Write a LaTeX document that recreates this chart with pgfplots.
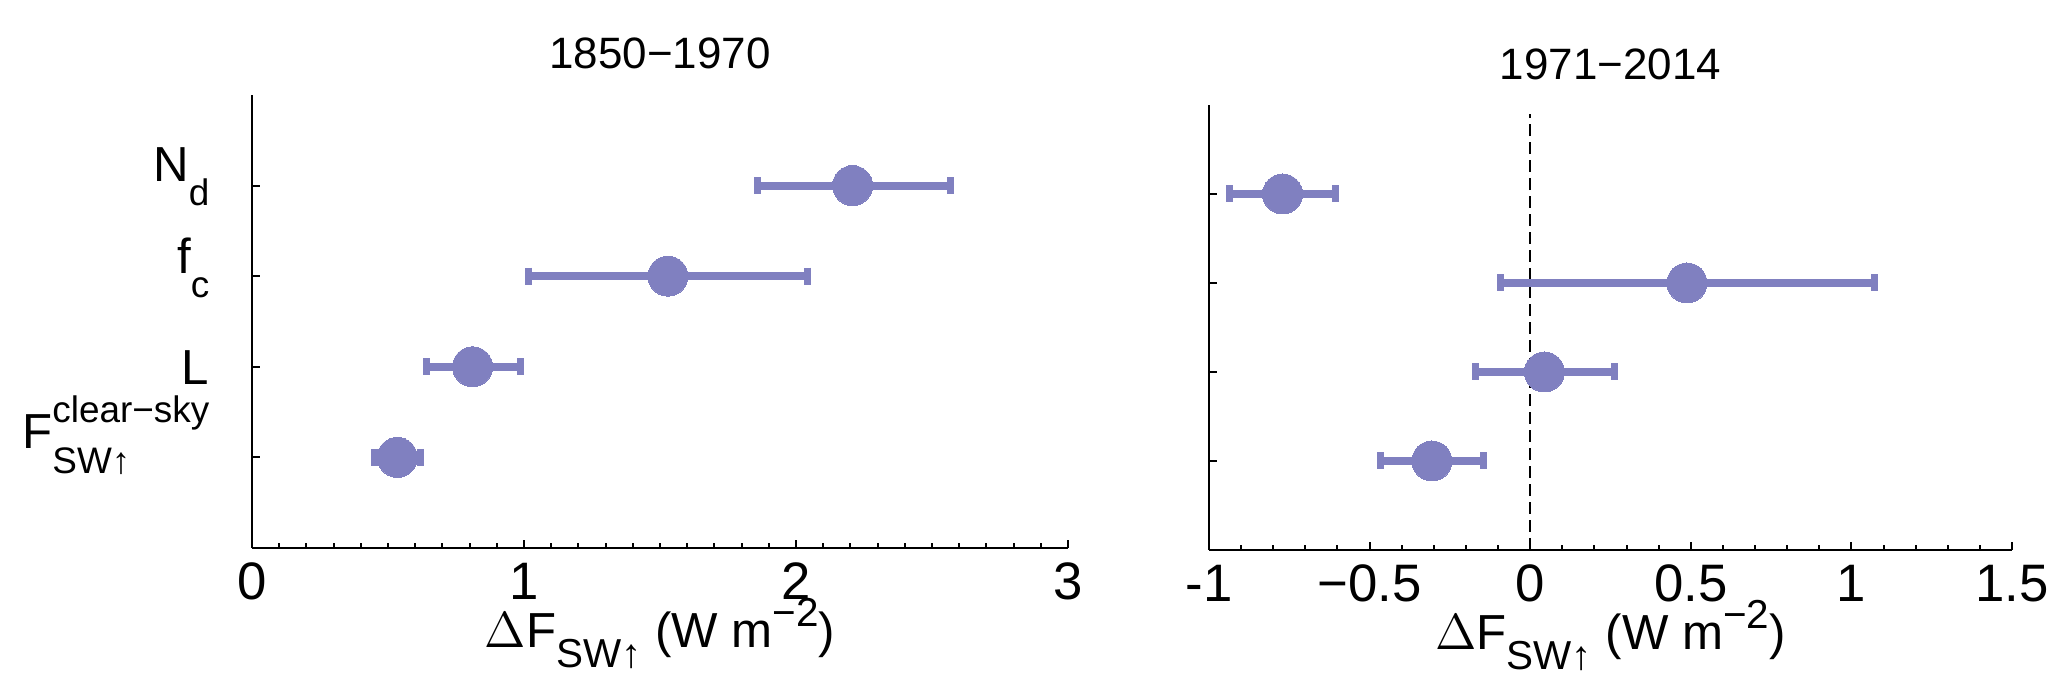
\documentclass[border=0pt]{standalone}
\usepackage{fontspec}
\setmainfont{Liberation Sans}
\usepackage{pgfplots}
\usepackage{pgfplotstable}
\pgfplotsset{compat=1.18}
\definecolor{pt}{RGB}{128,128,192}
\newcommand{\fsY}{\fontsize{14}{16}\selectfont}
\newcommand{\fsA}{\fontsize{15}{17}\selectfont}
\newcommand{\fsX}{\fontsize{14}{16}\selectfont}
\newcommand{\fsB}{\fontsize{10.5}{12}\selectfont}
\newcommand{\fsS}{\fontsize{11.5}{13}\selectfont}
\newcommand{\fsT}{\fontsize{12.5}{15}\selectfont}

% y: category position, x: estimate, lo/hi: ends of the range
\pgfplotstableread{
y x lo hi
4 2.208 1.857 2.567
3 1.529 1.018 2.044
2 0.811 0.643 0.986
1 0.534 0.452 0.620
}\leftdata
\pgfplotstableread{
y x lo hi
4 -0.771 -0.935 -0.606
3 0.488 -0.092 1.071
2 0.044 -0.171 0.263
1 -0.306 -0.467 -0.146
}\rightdata

\pgfplotsset{
  every axis title shift=0pt,
  panel/.style={
    scale only axis, anchor=south west, clip=false,
    axis x line=bottom, axis y line=left,
    axis line style={-, line width=0.02cm, black},
    ymin=0, ymax=5, ytick={1,2,3,4},
    tick align=inside,
    major tick length=0.08cm, minor tick length=0.05cm,
    every tick/.style={black, line width=0.02cm},
    xticklabel style={anchor=base, yshift=-0.52cm, inner sep=0pt, font=\fsA},
    yticklabel style={anchor=base east, inner sep=0pt, xshift=-0.42cm, font=\fsY},
    title style={at={(axis description cs:0.5,1)}, anchor=base, yshift=0.26cm, inner sep=0pt, font=\fsT},
    xlabel style={at={(axis description cs:0.5,0)}, anchor=base, yshift=-1.0cm, inner sep=0pt, font=\fsX},
    xlabel={$\Delta$F\raisebox{-0.2cm}{\fsS SW↑} (W m\raisebox{0.21cm}{\fsS −2})},
  },
  ebars/.style={pt, only marks, mark=none,
    error bars/.cd, x dir=both, x explicit,
    error mark=none,
    error bar style={line width=0.08cm, pt}},
  caps/.style={pt, only marks, mark=|, mark size=0.085cm, mark options={line width=0.07cm, pt}},
  dots/.style={pt, only marks, mark=*, mark size=0.2cm, mark options={draw=pt, fill=pt, line width=0pt}},
}

\begin{document}
\begin{tikzpicture}
\path[use as bounding box] (0,0) rectangle (20.67cm,6.94cm);

\begin{axis}[panel,
  at={(2.52cm,1.46cm)}, width=8.16cm, height=4.53cm,
  xmin=0, xmax=3, xtick={0,1,2,3}, xticklabels={0,1,2,3},
  minor x tick num=9,
  title={1850−1970},
  yticklabels={
    \raisebox{0.09cm}{F\rlap{\raisebox{-0.25cm}{\fsB SW↑}}\raisebox{0.26cm}{\fsB clear−sky}},
    \raisebox{-0.18cm}{L},
    \raisebox{0.03cm}{f\raisebox{-0.24cm}{\fsB c}},
    \raisebox{0.04cm}{N\raisebox{-0.24cm}{\fsB d}}
  },
]
\addplot[ebars] table[x=x, y=y, x error plus expr=\thisrow{hi}-\thisrow{x}, x error minus expr=\thisrow{x}-\thisrow{lo}] {\leftdata};
\addplot[caps] table[x=lo, y=y] {\leftdata};
\addplot[caps] table[x=hi, y=y] {\leftdata};
\addplot[dots] table[x=x, y=y] {\leftdata};
\end{axis}

\begin{axis}[panel,
  at={(12.09cm,1.44cm)}, width=8.03cm, height=4.45cm,
  xmin=-1, xmax=1.5, xtick={-1,-0.5,0,0.5,1,1.5},
  xticklabels={-1,−0.5,0,0.5,1,1.5},
  minor x tick num=4,
  title={1971−2014},
  yticklabels={},
]
\addplot[black, line width=0.02cm, dash pattern=on 0.12cm off 0.06cm] coordinates {(0,0) (0,4.9)};
\addplot[ebars] table[x=x, y=y, x error plus expr=\thisrow{hi}-\thisrow{x}, x error minus expr=\thisrow{x}-\thisrow{lo}] {\rightdata};
\addplot[caps] table[x=lo, y=y] {\rightdata};
\addplot[caps] table[x=hi, y=y] {\rightdata};
\addplot[dots] table[x=x, y=y] {\rightdata};
\end{axis}
\end{tikzpicture}
\end{document}
